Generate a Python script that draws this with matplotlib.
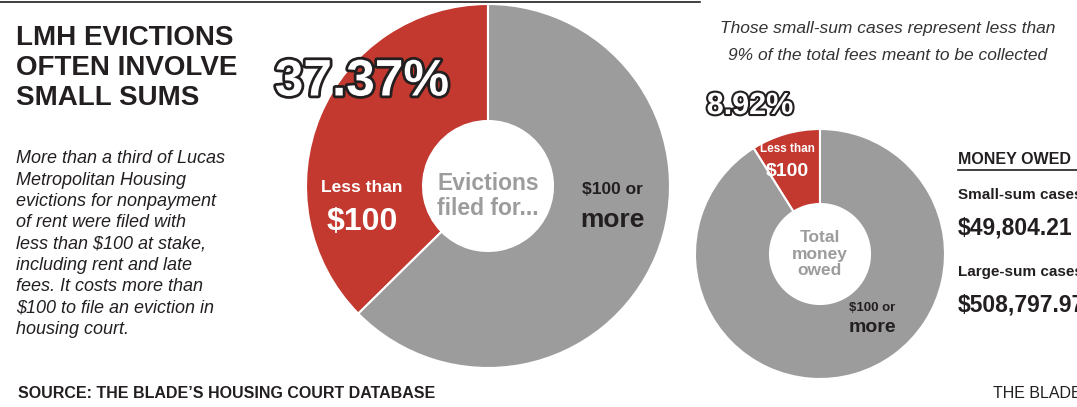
import matplotlib
matplotlib.use("Agg")
import matplotlib.pyplot as plt
import matplotlib.patheffects as pe

evict_labels = ["Less than $100", "$100 or more"]
evict_share = [37.37, 62.63]
money_labels = ["Less than $100", "$100 or more"]
money_share = [8.92, 91.08]
small_sum = "$49,804.21"
large_sum = "$508,797.97"

RED = "#c3392f"
GRAY = "#9d9c9c"
DARK = "#231f20"
FAM = ["Liberation Sans", "DejaVu Sans"]
H = 407

fig = plt.figure(figsize=(10.77, 4.07), dpi=100)
ax = fig.add_axes([0, 0, 1, 1])

def Y(y):
    return H - y

def T(x, y, s, size, color=DARK, weight="bold", style="normal", ha="left", va="center", **kw):
    return ax.text(x, Y(y), s, fontsize=size, color=color, fontweight=weight, fontstyle=style,
                   ha=ha, va=va, family=FAM, **kw)

ax.pie(evict_share, colors=[RED, GRAY], startangle=90, counterclock=True,
       center=(488, Y(186)), radius=182, wedgeprops=dict(width=117, edgecolor="white", linewidth=1.5),
       frame=True)
ax.pie(money_share, colors=[RED, GRAY], startangle=90, counterclock=True,
       center=(820, Y(254)), radius=125, wedgeprops=dict(width=75, edgecolor="white", linewidth=1.5),
       frame=True)
ax.set_xlim(0, 1077); ax.set_ylim(0, H); ax.set_aspect("equal"); ax.axis("off")
ax.plot([0, 700], [Y(2), Y(2)], color=DARK, lw=1.2)

T(16, 68, "LMH EVICTIONS\nOFTEN INVOLVE\nSMALL SUMS", 20, va="center", linespacing=1.2)
body = ("More than a third of Lucas\nMetropolitan Housing\nevictions for nonpayment\nof rent were filed with\n"
        "less than $100 at stake,\nincluding rent and late\nfees. It costs more than\n$100 to file an eviction in\nhousing court.")
T(16, 244, body, 13, weight="normal", style="italic", linespacing=1.33)
T(18, 393, "SOURCE: THE BLADE\u2019S HOUSING COURT DATABASE", 11.5)
T(993, 393, "THE BLADE", 11.5, weight="normal")

T(720, 29, "Those small-sum cases represent less than", 12.5, weight="normal", style="italic", color="#333333")
T(728, 55, "9% of the total fees meant to be collected", 12.5, weight="normal", style="italic", color="#333333")

T(362, 82, "37.37%", 37, color="white", ha="center", path_effects=[pe.withStroke(linewidth=4, foreground=DARK)])
T(750, 106, "8.92%", 22, color="white", ha="center", path_effects=[pe.withStroke(linewidth=3, foreground=DARK)])

T(362, 187, "Less than", 12.5, color="white", ha="center")
T(362, 222, "$100", 23, color="white", ha="center")
T(488, 196, "Evictions\nfiled for...", 16.5, color=GRAY, ha="center", linespacing=1.1)
T(612, 190, "$100 or", 12.5, ha="center")
T(612, 220, "more", 19, ha="center")

T(787, 149, "Less than", 8.5, color="white", ha="center")
T(787, 171, "$100", 14, color="white", ha="center")
T(820, 254, "Total\nmoney\nowed", 12.5, color=GRAY, ha="center", linespacing=1.15)
T(872, 308, "$100 or", 9.5, ha="center")
T(872, 328, "more", 14, ha="center")

T(958, 160, "MONEY OWED", 11.5)
ax.plot([958, 1077], [Y(170), Y(170)], color=DARK, lw=1.2)
T(958, 195, "Small-sum cases", 11)
T(958, 228, small_sum, 16.5)
T(958, 272, "Large-sum cases", 11)
T(958, 305, large_sum, 16.5)

fig.savefig("out.png", dpi=100, facecolor="white")
